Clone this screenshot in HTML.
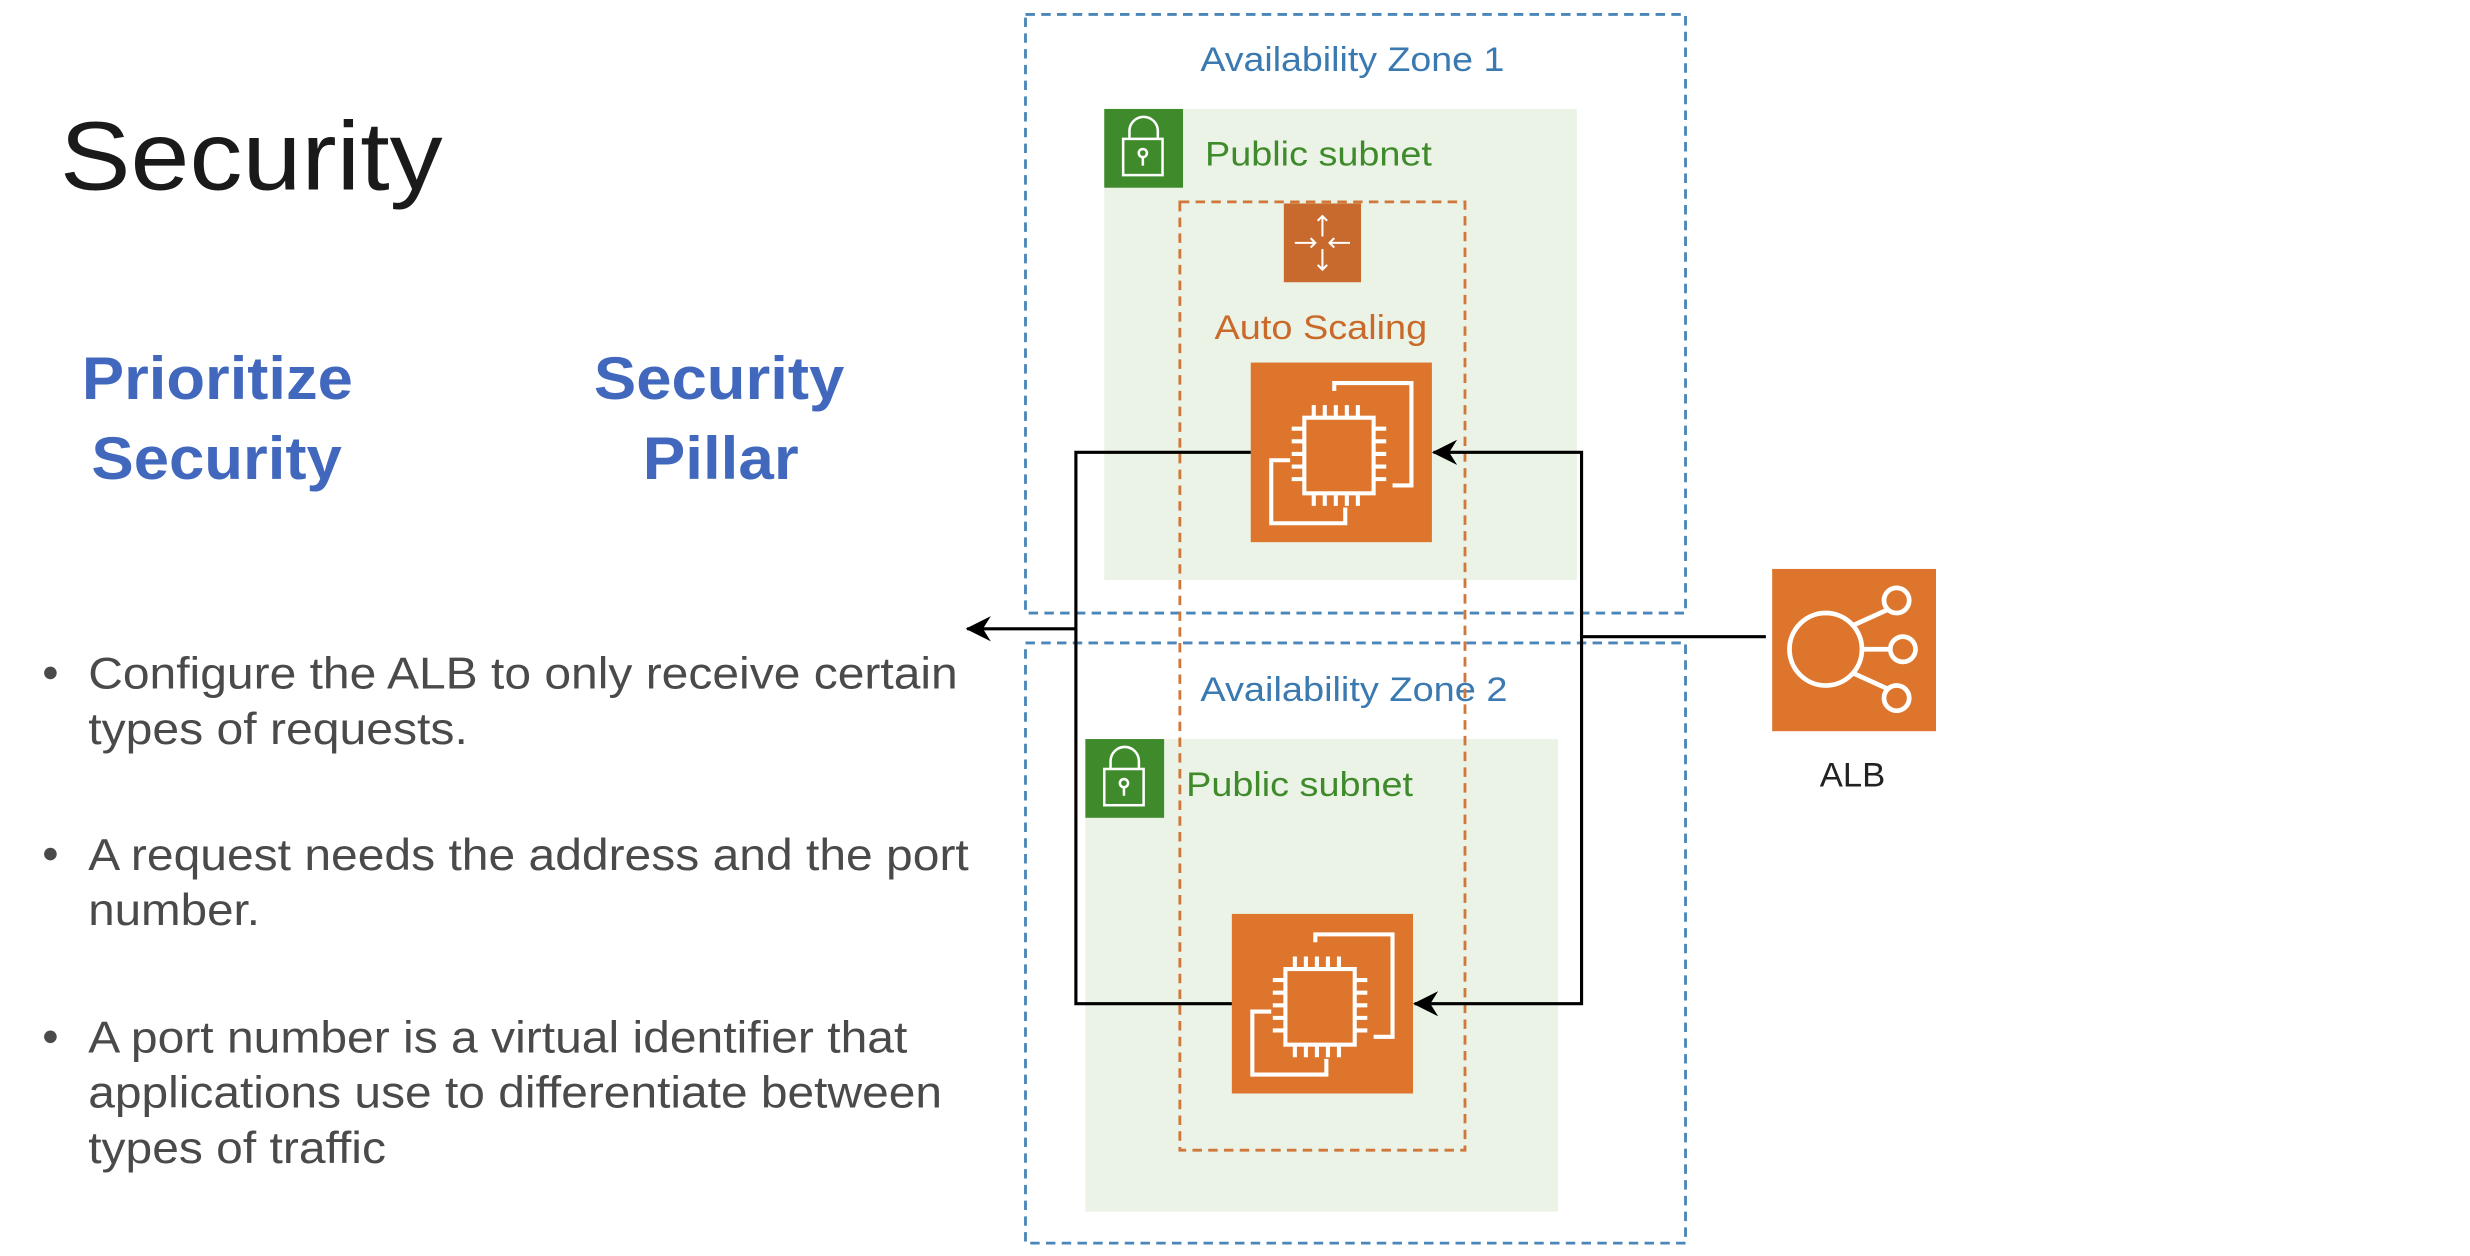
<!DOCTYPE html>
<html><head><meta charset="utf-8"><style>
html,body{margin:0;padding:0;background:#fff;width:2470px;height:1256px;overflow:hidden}
svg{display:block}
text{font-family:"Liberation Sans",Arial,sans-serif}
</style></head><body>
<svg width="2470" height="1256" viewBox="0 0 1568 797" xmlns="http://www.w3.org/2000/svg">
<defs>
<marker id="ah" markerWidth="18" markerHeight="16" refX="15" refY="8" orient="auto" markerUnits="userSpaceOnUse">
<path d="M0,0 L16,8 L0,16 L5,8 Z" fill="#000"/>
</marker>
<g id="ec2">
<rect x="0" y="0" width="115" height="114" fill="#dd762c"/>
<g fill="none" stroke="#fff" stroke-width="2.6">
<path d="M53,18 V13 H102 V78 H90"/>
<path d="M25,62 H13 V102 H60 V92"/>
<rect x="34" y="35" width="44" height="48"/>
<path d="M40,35 v-8 M47,35 v-8 M54,35 v-8 M61,35 v-8 M68,35 v-8 M40,83 v8 M47,83 v8 M54,83 v8 M61,83 v8 M68,83 v8 M34,42 h-8 M34,50 h-8 M34,58 h-8 M34,66 h-8 M34,74 h-8 M78,42 h8 M78,50 h8 M78,58 h8 M78,66 h8 M78,74 h8"/>
</g>
</g>
<g id="lock">
<rect x="0" y="0" width="50" height="50" fill="#3f8b2c"/>
<g fill="none" stroke="#fff" stroke-width="1.6">
<rect x="12" y="19" width="25" height="23"/>
<path d="M16,19 V14 a9,9 0 0 1 18,0 V19"/>
<circle cx="24.5" cy="28" r="2.6"/><path d="M24.5,31 V36"/>
</g>
</g>
</defs>

<text x="38" y="120" font-size="62" fill="#1a1a1a" textLength="243" lengthAdjust="spacingAndGlyphs">Security</text>
<g font-weight="bold" font-size="38" fill="#4168bd">
<text x="52" y="253" textLength="172" lengthAdjust="spacingAndGlyphs">Prioritize</text>
<text x="58" y="304" textLength="159" lengthAdjust="spacingAndGlyphs">Security</text>
<text x="377" y="253" textLength="159" lengthAdjust="spacingAndGlyphs">Security</text>
<text x="408" y="304" textLength="99" lengthAdjust="spacingAndGlyphs">Pillar</text>
</g>

<g fill="#4a4a4a" font-size="28">
<circle cx="32" cy="427" r="4"/><circle cx="32" cy="542" r="4"/><circle cx="32" cy="658" r="4"/>
<text x="56" y="437" textLength="552" lengthAdjust="spacingAndGlyphs">Configure the ALB to only receive certain</text>
<text x="56" y="472" textLength="241" lengthAdjust="spacingAndGlyphs">types of requests.</text>
<text x="56" y="552" textLength="559" lengthAdjust="spacingAndGlyphs">A request needs the address and the port</text>
<text x="56" y="587" textLength="109" lengthAdjust="spacingAndGlyphs">number.</text>
<text x="56" y="668" textLength="520" lengthAdjust="spacingAndGlyphs">A port number is a virtual identifier that</text>
<text x="56" y="703" textLength="542" lengthAdjust="spacingAndGlyphs">applications use to differentiate between</text>
<text x="56" y="738" textLength="189" lengthAdjust="spacingAndGlyphs">types of traffic</text>
</g>

<rect x="701" y="69" width="300" height="299" fill="#ebf2e6"/>
<rect x="689" y="469" width="300" height="300" fill="#ebf2e6"/>
<use href="#lock" x="701" y="69"/>
<use href="#lock" x="689" y="469"/>
<g font-size="22" fill="#3f8b2c">
<text x="765" y="105" textLength="144" lengthAdjust="spacingAndGlyphs">Public subnet</text>
<text x="753" y="505" textLength="144" lengthAdjust="spacingAndGlyphs">Public subnet</text>
</g>

<g fill="none" stroke="#4a86b8" stroke-width="1.8" stroke-dasharray="6,4">
<rect x="651" y="9" width="419" height="380"/>
<rect x="651" y="408" width="419" height="381"/>
</g>
<g font-size="22" fill="#3a7ab0">
<text x="762" y="45" textLength="193" lengthAdjust="spacingAndGlyphs">Availability Zone 1</text>
<text x="762" y="445" textLength="195" lengthAdjust="spacingAndGlyphs">Availability Zone 2</text>
</g>

<rect x="749" y="128" width="181" height="602" fill="none" stroke="#d0773a" stroke-width="1.8" stroke-dasharray="6,4"/>
<rect x="815" y="129" width="49" height="50" fill="#c8692e"/>
<g stroke="#fff" stroke-width="1.3" fill="none">
<path d="M839.5,137 V150 M836.5,140 l3,-3 l3,3"/>
<path d="M839.5,158 V171 M836.5,168 l3,3 l3,-3"/>
<path d="M822,154 H835 M832,151 l3,3 l-3,3"/>
<path d="M857,154 H844 M847,151 l-3,3 l3,3"/>
</g>
<text x="771" y="215" font-size="22" fill="#c96a2b" textLength="135" lengthAdjust="spacingAndGlyphs">Auto Scaling</text>

<use href="#ec2" x="794" y="230"/>
<use href="#ec2" x="782" y="580"/>

<rect x="1125" y="361" width="104" height="103" fill="#dd762c"/>
<g fill="none" stroke="#fff" stroke-width="3">
<circle cx="1159" cy="412" r="23"/>
<circle cx="1204" cy="381" r="8"/><circle cx="1208" cy="412" r="8"/><circle cx="1204" cy="443" r="8"/>
<path d="M1176,397 L1198,387 M1182,412 H1200 M1176,427 L1198,437"/>
</g>
<text x="1176" y="499" font-size="22" fill="#222" text-anchor="middle">ALB</text>

<g fill="none" stroke="#000" stroke-width="2">
<path d="M1121,404 H1004 V287 H910" marker-end="url(#ah)"/>
<path d="M1004,404 V637 H898" marker-end="url(#ah)"/>
<path d="M794,287 H683 V637 H782"/>
<path d="M683,399 H614" marker-end="url(#ah)"/>
</g>
</svg>
</body></html>
